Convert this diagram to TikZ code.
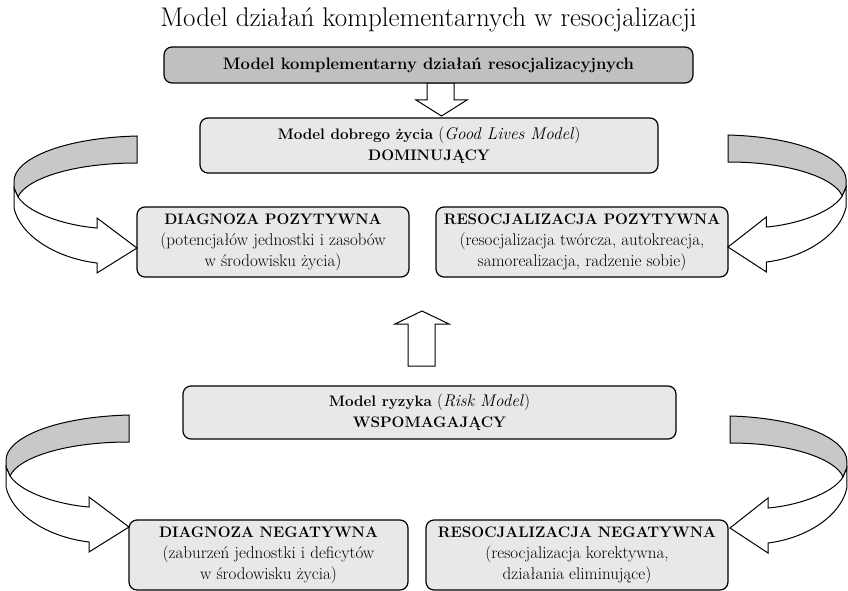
\documentclass[tikz,border=0pt]{standalone}
\usepackage{fontspec}
\definecolor{boxfill}{HTML}{E8E8E8}
\definecolor{topfill}{HTML}{C0C0C0}
\definecolor{ribbon}{HTML}{C8C8C8}
\newcommand\bt[1]{{\fontsize{15.2}{21}\selectfont\bfseries #1}}
\newcommand\ribbonarrow{%
  \filldraw[fill=ribbon, line width=1pt] (0,0) .. controls (-77,2) and (-123,24) .. (-123,45) -- (-123,52) -- (-119,61) .. controls (-112,44) and (-67,27) .. (0,27) -- cycle;
  \filldraw[fill=white, line width=1pt] (-123,52) -- (-123,72) .. controls (-117,99) and (-82,122) .. (-40,127) -- (-40,137) -- (0,112) -- (-40,82) -- (-40,92) .. controls (-67,90) and (-107,79) .. (-119,61) -- cycle;
}
\tikzset{
  box/.style={draw, line width=1.2pt, rounded corners=8pt, fill=boxfill, align=center,
    inner sep=0pt, font=\fontsize{17}{21}\selectfont},
  blockarrow/.style={draw, fill=white, line width=1pt, line join=miter}
}
\begin{document}
\begin{tikzpicture}[x=1pt, y=-1pt]
\useasboundingbox (0,0) rectangle (848,591);
% title
\node[anchor=base, font=\fontsize{27}{30}\selectfont, inner sep=0pt] (title) at (428.5,27)
  {Model działań komplementarnych w resocjalizacji};
% block arrows
\filldraw[blockarrow] (427,83) -- (427,100) -- (416,100) -- (441.5,116) -- (467,100) -- (454,100) -- (454,83) -- cycle;
\filldraw[blockarrow] (408,366) -- (408,324) -- (395,324) -- (422,311) -- (449,324) -- (435,324) -- (435,366) -- cycle;
% boxes
\node[box, fill=topfill, minimum width=529pt, minimum height=36pt,
  font=\fontsize{16.6}{20}\selectfont\bfseries] (top) at (428.5,65)
  {Model komplementarny działań resocjalizacyjnych};
\node[box, minimum width=458pt, minimum height=55pt] (good) at (429,145.5)
  {\bt{Model dobrego życia} (\textit{Good Lives Model})\\\bt{DOMINUJĄCY}};
\node[box, minimum width=272pt, minimum height=70pt] (dpoz) at (273,242)
  {\bt{DIAGNOZA POZYTYWNA}\\(potencjałów jednostki i zasobów\\w środowisku życia)};
\node[box, minimum width=292pt, minimum height=70pt] (rpoz) at (582,242)
  {\bt{RESOCJALIZACJA POZYTYWNA}\\(resocjalizacja twórcza, autokreacja,\\samorealizacja, radzenie sobie)};
\node[box, minimum width=493pt, minimum height=53pt] (risk) at (429.5,412.5)
  {\bt{Model ryzyka} (\textit{Risk Model})\\\bt{WSPOMAGAJĄCY}};
\node[box, minimum width=279pt, minimum height=70pt] (dneg) at (268.5,555)
  {\bt{DIAGNOZA NEGATYWNA}\\(zaburzeń jednostki i deficytów\\w środowisku życia)};
\node[box, minimum width=302pt, minimum height=70pt] (rneg) at (577,555)
  {\bt{RESOCJALIZACJA NEGATYWNA}\\(resocjalizacja korektywna,\\działania eliminujące)};
% curved ribbon arrows
\begin{scope}[shift={(137,136)}]\ribbonarrow\end{scope}
\begin{scope}[shift={(129,415)}]\ribbonarrow\end{scope}
\begin{scope}[shift={(728,135)}, xscale=-0.96]\ribbonarrow\end{scope}
\begin{scope}[shift={(730,416)}, xscale=-0.95]\ribbonarrow\end{scope}
\end{tikzpicture}
\end{document}
